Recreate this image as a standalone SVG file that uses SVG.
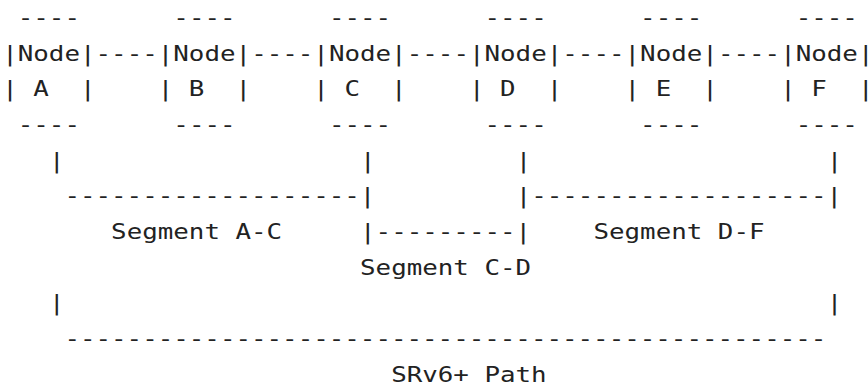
<svg xmlns="http://www.w3.org/2000/svg" width="868" height="386" viewBox="0 0 868 386">
<style>
text{font-family:"DejaVu Sans Mono","Liberation Mono",monospace;font-size:22px;fill:#222;white-space:pre}
</style>
<rect width="868" height="386" fill="#fff"/>
<g transform="translate(2.2,0) scale(1.1747,1)" xml:space="preserve">
<g id="nodeA">
<text x="13.245" y="25">----</text>
<text x="0" y="61">|Node|</text>
<text x="0" y="96.5">| A  |</text>
<text x="13.245" y="132">----</text>
</g>
<g id="nodeB">
<text x="145.695" y="25">----</text>
<text x="132.45" y="61">|Node|</text>
<text x="132.45" y="96.5">| B  |</text>
<text x="145.695" y="132">----</text>
</g>
<g id="nodeC">
<text x="278.145" y="25">----</text>
<text x="264.9" y="61">|Node|</text>
<text x="264.9" y="96.5">| C  |</text>
<text x="278.145" y="132">----</text>
</g>
<g id="nodeD">
<text x="410.595" y="25">----</text>
<text x="397.35" y="61">|Node|</text>
<text x="397.35" y="96.5">| D  |</text>
<text x="410.595" y="132">----</text>
</g>
<g id="nodeE">
<text x="543.045" y="25">----</text>
<text x="529.8" y="61">|Node|</text>
<text x="529.8" y="96.5">| E  |</text>
<text x="543.045" y="132">----</text>
</g>
<g id="nodeF">
<text x="675.495" y="25">----</text>
<text x="662.25" y="61">|Node|</text>
<text x="662.25" y="96.5">| F  |</text>
<text x="675.495" y="132">----</text>
</g>
<g id="connectors">
<text x="79.47" y="61">----</text>
<text x="211.92" y="61">----</text>
<text x="344.37" y="61">----</text>
<text x="476.82" y="61">----</text>
<text x="609.27" y="61">----</text>
<text x="39.735" y="168">|</text>
<text x="304.635" y="168">|</text>
<text x="437.085" y="168">|</text>
<text x="701.985" y="168">|</text>
<text x="52.98" y="203.5">-------------------|</text>
<text x="437.085" y="203.5">|-------------------|</text>
<text x="304.635" y="239">|---------|</text>
<text x="39.735" y="310.5">|</text>
<text x="701.985" y="310.5">|</text>
<text x="52.98" y="346">-------------------------------------------------</text>
</g>
<g id="labels">
<text x="92.715" y="239">Segment A-C</text>
<text x="503.31" y="239">Segment D-F</text>
<text x="304.635" y="275">Segment C-D</text>
<text x="331.125" y="382">SRv6+ Path</text>
</g>
</g>
</svg>
